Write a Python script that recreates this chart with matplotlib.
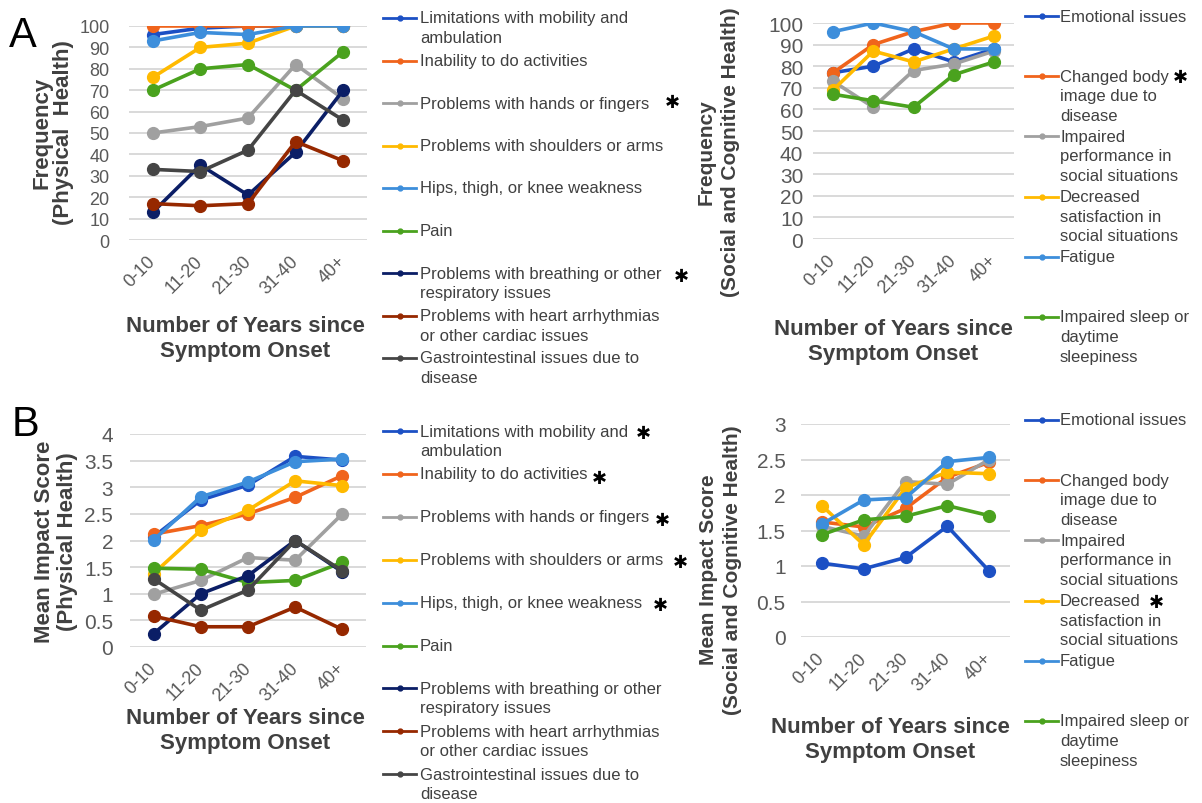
import matplotlib
matplotlib.use('Agg')
import matplotlib.pyplot as plt
from matplotlib.lines import Line2D

plt.rcParams['font.family'] = ['Liberation Sans', 'DejaVu Sans']

W, H = 1202, 804

# data
years = ['0-10', '11-20', '21-30', '31-40', '40+']

# A: frequency, physical health
freq_limitations = [96, 99, 100, 100, 100]
freq_inability = [100, 100, 100, 100, 100]
freq_hands = [50, 53, 57, 82, 66]
freq_shoulders = [76, 90, 92, 100, 100]
freq_hips = [93, 97, 96, 100, 100]
freq_pain = [70, 80, 82, 70, 88]
freq_breathing = [13, 35, 21, 41, 70]
freq_heart = [17, 16, 17, 46, 37]
freq_gi = [33, 32, 42, 70, 56]

# A: frequency, social and cognitive health
freq_emotional = [77, 80, 88, 82, 88]
freq_body = [77, 90, 96, 100, 100]
freq_performance = [73, 61, 78, 81, 87]
freq_satisfaction = [69, 87, 82, 88, 94]
freq_fatigue = [96, 100, 96, 88, 88]
freq_sleep = [67, 64, 61, 76, 82]

# B: mean impact, physical health
imp_limitations = [2.07, 2.76, 3.04, 3.58, 3.51]
imp_inability = [2.12, 2.28, 2.5, 2.81, 3.22]
imp_hands = [0.99, 1.25, 1.68, 1.63, 2.5]
imp_shoulders = [1.38, 2.19, 2.57, 3.12, 3.03]
imp_hips = [2.01, 2.82, 3.1, 3.48, 3.53]
imp_pain = [1.48, 1.46, 1.21, 1.25, 1.59]
imp_breathing = [0.25, 1.0, 1.34, 2.0, 1.41]
imp_heart = [0.58, 0.38, 0.38, 0.75, 0.33]
imp_gi = [1.28, 0.69, 1.07, 2.0, 1.43]

# B: mean impact, social and cognitive health
imp_emotional = [1.04, 0.96, 1.12, 1.56, 0.93]
imp_body = [1.62, 1.55, 1.81, 2.25, 2.46]
imp_performance = [1.56, 1.42, 2.19, 2.15, 2.5]
imp_satisfaction = [1.85, 1.3, 2.1, 2.32, 2.3]
imp_fatigue = [1.59, 1.93, 1.96, 2.47, 2.53]
imp_sleep = [1.44, 1.65, 1.7, 1.85, 1.71]

phys_labels = ['Limitations with mobility and\nambulation',
               'Inability to do activities',
               'Problems with hands or fingers',
               'Problems with shoulders or arms',
               'Hips, thigh, or knee weakness',
               'Pain',
               'Problems with breathing or other\nrespiratory issues',
               'Problems with heart arrhythmias\nor other cardiac issues',
               'Gastrointestinal issues due to\ndisease']
soc_labels = ['Emotional issues',
              'Changed body\nimage due to\ndisease',
              'Impaired\nperformance in\nsocial situations',
              'Decreased\nsatisfaction in\nsocial situations',
              'Fatigue',
              'Impaired sleep or\ndaytime\nsleepiness']

phys_colors = ['#1c50c4', '#f0641c', '#a0a0a0', '#ffba00', '#3d8edb',
               '#4aa21e', '#0b1e66', '#962800', '#454545']
soc_colors = ['#1c50c4', '#f0641c', '#a0a0a0', '#ffba00', '#3d8edb', '#4aa21e']

TXT = '#404040'
TICK = '#595959'


def fx(x):
    return x / W


def fy(y):
    return 1 - y / H


fig = plt.figure(figsize=(W / 100, H / 100), dpi=100)


def make_axes(box, ymax, ystep, series, colors, ytick_size, ypad):
    x0, y0, x1, y1 = box
    ax = fig.add_axes([fx(x0), fy(y1), fx(x1 - x0), (y1 - y0) / H])
    for vals, c in zip(series, colors):
        ax.plot(range(len(years)), vals, color=c, lw=2.6, marker='o',
                markersize=8.5, solid_capstyle='round', zorder=3)
    ax.set_xlim(-0.5, len(years) - 0.5)
    ax.set_ylim(0, ymax)
    ticks = [i * ystep for i in range(int(round(ymax / ystep)) + 1)]
    ax.set_yticks(ticks)
    ax.set_yticklabels(['{:g}'.format(t) for t in ticks])
    ax.set_xticks(range(len(years)))
    ax.set_xticklabels(years, rotation=45, ha='right', va='center',
                       rotation_mode='anchor')
    ax.tick_params(axis='both', length=0, colors=TICK)
    ax.tick_params(axis='y', labelsize=ytick_size, pad=ypad)
    ax.tick_params(axis='x', labelsize=13, pad=13)
    for s in ax.spines.values():
        s.set_visible(False)
    ax.yaxis.grid(True, color='#d9d9d9', lw=1.4, zorder=0)
    ax.set_axisbelow(True)
    ax.patch.set_alpha(0)
    return ax


def legend(labels, colors, x_line, x_text, y_first, step, fs=12):
    for i, (lab, c) in enumerate(zip(labels, colors)):
        yc = y_first + i * step
        fig.add_artist(Line2D([fx(x_line), fx(x_line + 33)], [fy(yc), fy(yc)],
                              color=c, lw=2.0, transform=fig.transFigure))
        fig.add_artist(Line2D([fx(x_line + 16.5)], [fy(yc)], color=c,
                              marker='o', markersize=3.5,
                              transform=fig.transFigure))
        # one text per wrapped line, as the legend lays them out
        for k, line in enumerate(lab.split('\n')):
            fig.text(fx(x_text), fy(yc - 7.5 + k * 19.6), line, fontsize=fs,
                     color=TXT, va='top', ha='left')


def star(x, y):
    fig.text(fx(x), fy(y), '\u2731', fontsize=13, color='black',
             family='DejaVu Sans', ha='center', va='center')


def ylab(x1, x2, yc, l1, l2, fs):
    fig.text(fx(x1), fy(yc), l1, rotation=90, fontsize=fs, weight='bold',
             color=TXT, ha='center', va='center')
    fig.text(fx(x2), fy(yc), l2, rotation=90, fontsize=fs, weight='bold',
             color=TXT, ha='center', va='center')


def xlab(xc, y_top):
    fig.text(fx(xc), fy(y_top), 'Number of Years since\nSymptom Onset',
             fontsize=16, weight='bold', color=TXT, ha='center', va='top',
             linespacing=1.27, multialignment='center')


# panel A
make_axes((129, 27, 367, 241), 100, 10,
          [freq_limitations, freq_inability, freq_hands, freq_shoulders,
           freq_hips, freq_pain, freq_breathing, freq_heart, freq_gi],
          phys_colors, 13, 14)
make_axes((813, 24, 1014, 240), 100, 10,
          [freq_emotional, freq_body, freq_performance, freq_satisfaction,
           freq_fatigue, freq_sleep],
          soc_colors, 15, 7)

# panel B
make_axes((130, 435, 366, 648), 4, 0.5,
          [imp_limitations, imp_inability, imp_hands, imp_shoulders,
           imp_hips, imp_pain, imp_breathing, imp_heart, imp_gi],
          phys_colors, 15, 12)
make_axes((801, 425, 1010, 638), 3, 0.5,
          [imp_emotional, imp_body, imp_performance, imp_satisfaction,
           imp_fatigue, imp_sleep],
          soc_colors, 15, 11)

# axis titles
ylab(42, 64, 133, 'Frequency', '(Physical  Health)', 16)
ylab(706, 730, 152, 'Frequency', '(Social and Cognitive Health)', 15)
ylab(45, 68, 542, 'Mean Impact Score', '(Physical Health)', 16)
ylab(708, 732, 570, 'Mean Impact Score', '(Social and Cognitive Health)', 15)

xlab(245, 316)
xlab(893, 319)
xlab(245, 708)
xlab(890, 717)

# legends
legend(phys_labels, phys_colors, 383, 420, 19, 42.5)
legend(soc_labels, soc_colors, 1025, 1060, 17, 60.2)
legend(phys_labels, phys_colors, 383, 420, 432, 42.9)
legend(soc_labels, soc_colors, 1025, 1060, 421, 60.2)

# significance marks
for x, y in [(672, 103), (681, 277), (1180, 78),
             (643, 434), (599, 479), (662, 521), (680, 563), (660, 606),
             (1156, 603)]:
    star(x, y)

fig.text(fx(9), fy(36), 'A', fontsize=30, color='black', va='center')
fig.text(fx(12), fy(425), 'B', fontsize=30, color='black', va='center')

fig.savefig('out.png', dpi=100)
